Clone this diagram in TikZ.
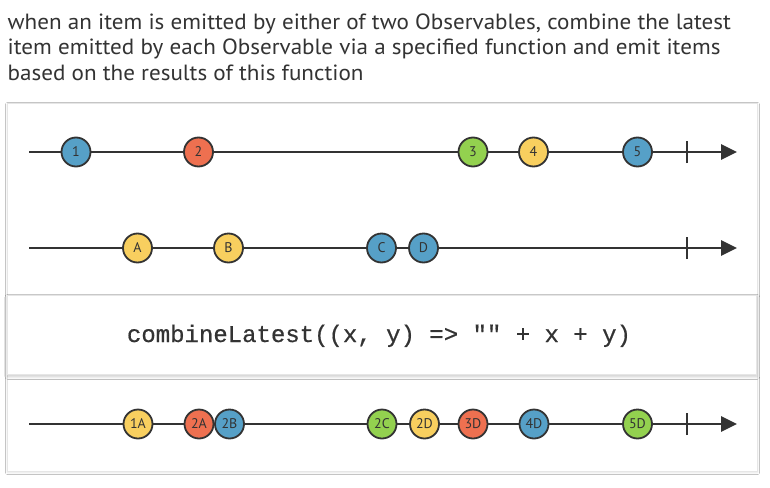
\documentclass[tikz,border=0pt]{standalone}
\usepackage{fontspec}
\usetikzlibrary{arrows.meta,shadows.blur}
\setmainfont{PT Sans}
\newfontfamily\hdrfont[FakeStretch=1.05]{PT Sans}
\newfontfamily\lblfont{PT Sans}
\newfontfamily\codefont[FakeBold=0.6]{Liberation Mono}
\definecolor{ink}{HTML}{333333}
\definecolor{mblue}{HTML}{56A0C7}
\definecolor{mred}{HTML}{EE7050}
\definecolor{mgreen}{HTML}{93D14F}
\definecolor{myellow}{HTML}{F8CF5F}
\definecolor{panelline}{HTML}{E6E6E6}
\tikzset{
  marble/.style={circle, draw=ink, line width=1.8pt, minimum size=29pt, inner sep=0pt,
    font=\lblfont\fontsize{14}{14}\selectfont, text=ink, fill=#1},
  timeline/.style={draw=ink, line width=2.8pt, -{Triangle[length=16pt,width=15pt]}},
  tickmark/.style={draw=ink, line width=2.4pt},
  hdr/.style={anchor=base west, inner sep=0pt, text=ink, font=\hdrfont\fontsize{22}{22}\selectfont},
}
\begin{document}
\begin{tikzpicture}[x=1pt,y=-1pt]
\useasboundingbox[fill=white] (0,0) rectangle (770,487);
% header
\node[hdr] (h1) at (7.5,29.5) {when an item is emitted by either of two Observables, combine the latest};
\node[hdr] (h2) at (7.5,55) {item emitted by each Observable via a specified function and emit items};
\node[hdr] (h3) at (7.5,81) {based on the results of this function};
% panel
\node[draw=panelline, line width=1pt, fill=white, minimum width=750pt, minimum height=368pt,
  inner sep=0pt, anchor=north west, blur shadow={shadow xshift=0pt, shadow yshift=-1pt, shadow opacity=12, shadow blur steps=4}] (panel) at (7,103) {};
% timeline 1
\coordinate (s1) at (29,152);
\coordinate (e1) at (737,152);
\coordinate (k1) at (687,152);
\draw[timeline] (s1) -- (e1);
\draw[tickmark] ([yshift=-11pt]k1) -- ([yshift=11pt]k1);
\node[marble=mblue] (m1) at (76,152) {1};
\node[marble=mred] (m2) at (198.5,152) {2};
\node[marble=mgreen] (m3) at (473,152) {3};
\node[marble=myellow] (m4) at (533.5,152) {4};
\node[marble=mblue] (m5) at (637.5,152) {5};
% timeline 2
\coordinate (s2) at (29,248);
\coordinate (e2) at (737,248);
\coordinate (k2) at (687,248);
\draw[timeline] (s2) -- (e2);
\draw[tickmark] ([yshift=-11pt]k2) -- ([yshift=11pt]k2);
\node[marble=myellow] (mA) at (137.5,248) {A};
\node[marble=myellow] (mB) at (228.5,248) {B};
\node[marble=mblue] (mC) at (381.5,248) {C};
\node[marble=mblue] (mD) at (423.5,248) {D};
% operator box
\node[fill=white, draw=panelline, line width=0.8pt, minimum width=749pt, minimum height=79pt, inner sep=0pt, anchor=north west,
  blur shadow={shadow xshift=0.5pt, shadow yshift=-2pt, shadow opacity=22, shadow blur steps=8, shadow blur radius=3pt}] (op) at (7,295) {};
\node[anchor=base, inner sep=0pt, text=ink, font=\codefont\fontsize{24}{24}\selectfont] (code) at (379,342) {combineLatest((x, y) => "" + x + y)};
% timeline 3
\coordinate (s3) at (29,424);
\coordinate (e3) at (737,424);
\coordinate (k3) at (687,424);
\draw[timeline] (s3) -- (e3);
\draw[tickmark] ([yshift=-11pt]k3) -- ([yshift=11pt]k3);
\node[marble=myellow] (r1A) at (138,424) {1A};
\node[marble=mred] (r2A) at (199,424) {2A};
\node[marble=mblue] (r2B) at (229.5,424) {2B};
\node[marble=mgreen] (r2C) at (382,424) {2C};
\node[marble=myellow] (r2D) at (424.5,424) {2D};
\node[marble=mred] (r3D) at (473,424) {3D};
\node[marble=mblue] (r4D) at (534,424) {4D};
\node[marble=mgreen] (r5D) at (637.5,424) {5D};
\end{tikzpicture}
\end{document}
